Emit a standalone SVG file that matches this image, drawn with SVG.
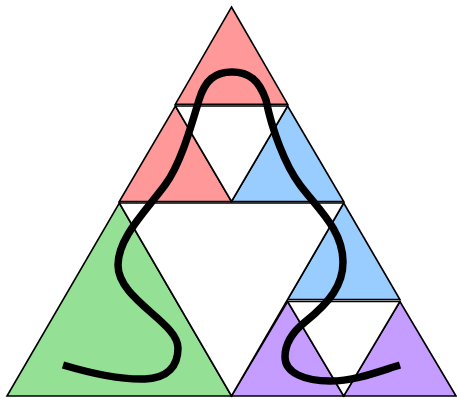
<svg xmlns="http://www.w3.org/2000/svg" width="457" height="398" viewBox="0 0 457 398">
<style>
.t{stroke:#000;stroke-width:1.6;stroke-linejoin:miter}
.r{fill:#ff9999}.b{fill:#99ccff}.g{fill:#94e196}.p{fill:#c59cff}.w{fill:#fff}
.c{fill:none;stroke:#000;stroke-width:7.5;stroke-linecap:butt;stroke-linejoin:round}
</style>
<rect width="457" height="398" fill="#fff"/>
<g id="top-top"><polygon class="t r" points="231.5,7 287.6,104.2 175.4,104.2"/></g>
<g id="top-left"><polygon class="t r" points="175.4,106 231.5,201.5 119.3,201.5"/></g>
<g id="top-right"><polygon class="t b" points="287.6,106 343.7,201.5 231.5,201.5"/></g>
<g id="top-hole"><polygon class="t w" points="175.4,106 287.6,106 231.5,201.5"/></g>
<g id="left"><polygon class="t g" points="119.3,203 231.5,396 7,396"/></g>
<g id="right-top"><polygon class="t b" points="343.7,203 399.9,299.5 287.6,299.5"/></g>
<g id="right-left"><polygon class="t p" points="287.6,301.5 343.7,396 231.5,396"/></g>
<g id="right-right"><polygon class="t p" points="399.9,301.5 456,396 343.7,396"/></g>
<g id="right-hole"><polygon class="t w" points="287.6,301.5 399.9,301.5 343.7,396"/></g>
<g id="center-hole"><polygon class="t w" points="119.3,203 343.7,203 231.5,396"/></g>
<g id="connectors">
<path class="c" d="M63,365 C90,373 120,380 145,379 C168,378 178,366 178,348 C178,322 118,300 118,265 C118,238 145,212 165,185 C180,165 190,130 199,100 C205,80 215,72 232,72 C249,72 259,80 266,100 C272,130 285,165 300,185 C318,209 343,230 343,262 C343,285 330,302 305,322 C290,334 285,345 285,357 C285,373 305,381 330,381 C355,381 380,371 400,365"/>
</g>
</svg>
